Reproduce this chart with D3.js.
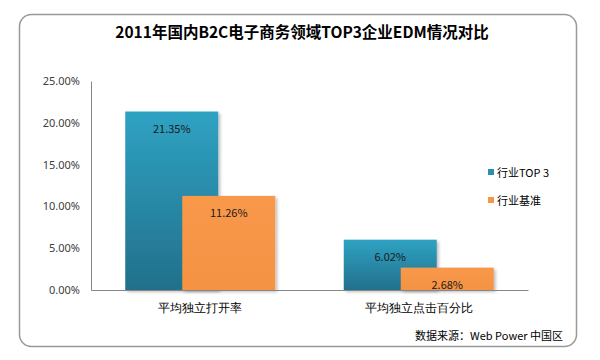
<!DOCTYPE html>
<html><head><meta charset="utf-8">
<script src="https://cdn.jsdelivr.net/npm/d3@7"></script>
<style>body{margin:0;background:#fff;}svg{display:block;font-family:"Noto Sans CJK SC","Noto Sans",sans-serif;}</style>
</head><body>
<svg id="c" width="600" height="360"></svg>
<script>
const title = "2011年国内B2C电子商务领域TOP3企业EDM情况对比";
const categories = ["平均独立打开率", "平均独立点击百分比"];
const seriesNames = ["行业TOP 3", "行业基准"];
const top3Values = [21.35, 6.02];
const baseValues = [11.26, 2.68];
const yTicks = [0, 5, 10, 15, 20, 25];
const source = "数据来源：Web Power 中国区";

const svg = d3.select("#c");
const defs = svg.append("defs");
const gb = defs.append("linearGradient").attr("id","gb").attr("x1",0).attr("y1",0).attr("x2",0).attr("y2",1);
gb.append("stop").attr("offset","0%").attr("stop-color","#2fa2c3");
gb.append("stop").attr("offset","100%").attr("stop-color","#22708b");
const go = defs.append("linearGradient").attr("id","go").attr("x1",0).attr("y1",0).attr("x2",0).attr("y2",1);
go.append("stop").attr("offset","0%").attr("stop-color","#f8984a");
go.append("stop").attr("offset","100%").attr("stop-color","#f59343");
const sh = defs.append("filter").attr("id","sh").attr("x","-10%").attr("y","-10%").attr("width","130%").attr("height","130%");
sh.append("feDropShadow").attr("dx",2).attr("dy",2).attr("stdDeviation",1.5).attr("flood-color","#000").attr("flood-opacity",0.25);

// outer frame
svg.append("rect").attr("x",19.5).attr("y",14.5).attr("width",557).attr("height",332).attr("rx",12)
  .attr("fill","#fff").attr("stroke","#999").attr("stroke-width",1.5);

svg.append("text").attr("x",302).attr("y",38).attr("text-anchor","middle")
  .attr("font-size",15.5).attr("font-weight","bold").attr("fill","#000").text(title);

const x = d3.scaleBand().domain(categories).range([91,528]);
const y = d3.scaleLinear().domain([0,25]).range([290,81]);

const barW = 93, offset = 57;
const data = categories.map((c,i)=>({c, vals:[top3Values[i], baseValues[i]]}));

const g = svg.append("g");
data.forEach(d=>{
  const cx = x(d.c) + x.bandwidth()/2;
  const start = cx - (barW+offset)/2;
  d.vals.forEach((v,k)=>{
    const bx = start + k*offset;
    g.append("rect").attr("x",bx).attr("y",y(v)).attr("width",barW).attr("height",y(0)-y(v))
      .attr("fill", k===0?"url(#gb)":"url(#go)").attr("filter","url(#sh)");
    g.append("text").attr("x",bx+barW/2).attr("y",y(v)+21).attr("text-anchor","middle")
      .attr("font-size",11).attr("fill","#1a1a1a").text(v.toFixed(2)+"%");
  });
});

// axes
const yAxis = d3.axisLeft(y).tickValues(yTicks).tickSize(0).tickPadding(11).tickFormat(d=>d.toFixed(2)+"%");
const ya = svg.append("g").attr("transform","translate(91,0)").call(yAxis);
ya.select(".domain").attr("stroke","#868686");
ya.selectAll("text").attr("font-size",11).attr("fill","#404040").attr("font-family","'Noto Sans','DejaVu Sans',sans-serif");

const xAxis = d3.axisBottom(x).tickSize(0).tickPadding(13);
const xa = svg.append("g").attr("transform","translate(0,290)").call(xAxis);
xa.select(".domain").attr("stroke","#868686");
xa.selectAll("text").attr("font-size",12).attr("fill","#000");

// legend
const lg = svg.append("g");
seriesNames.forEach((n,i)=>{
  const ly = 173 + i*28;
  lg.append("rect").attr("x",488).attr("y",ly-4).attr("width",6).attr("height",6).attr("fill", i===0?"#2a8fae":"#f79646");
  lg.append("text").attr("x",497).attr("y",ly+4).attr("font-size",11).attr("fill","#000").text(n);
});

svg.append("text").attr("x",563).attr("y",340).attr("text-anchor","end")
  .attr("font-size",11).attr("fill","#000").text(source);
</script>
</body></html>
